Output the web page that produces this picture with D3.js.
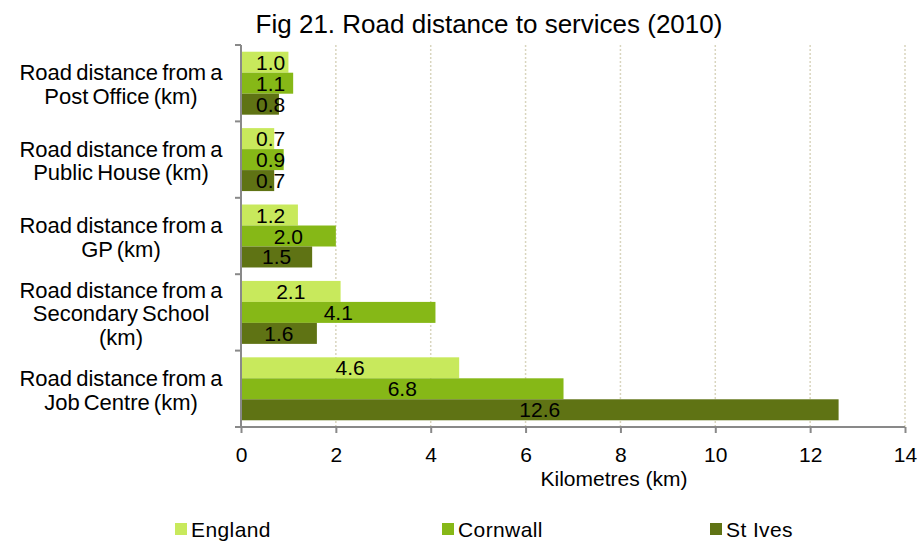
<!DOCTYPE html>
<html>
<head>
<meta charset="utf-8">
<script src="https://cdn.jsdelivr.net/npm/d3@7"></script>
<style>
  body { margin: 0; background: #fff; }
  svg text { font-family: "Liberation Sans", Arial, sans-serif; fill: #000; }
</style>
</head>
<body>
<div id="chart"></div>
<script>
// data
const categories = [
  ["Road distance from a", "Post Office (km)"],
  ["Road distance from a", "Public House (km)"],
  ["Road distance from a", "GP (km)"],
  ["Road distance from a", "Secondary School", "(km)"],
  ["Road distance from a", "Job Centre (km)"]
];
const series = ["England", "Cornwall", "St Ives"];
const england = [1.0, 0.7, 1.2, 2.1, 4.6];
const cornwall = [1.1, 0.9, 2.0, 4.1, 6.8];
const stIves = [0.8, 0.7, 1.5, 1.6, 12.6];
const xTicks = [0, 2, 4, 6, 8, 10, 12, 14];
const colors = ["#c8e95c", "#86b817", "#5f7314"];

const values = [england, cornwall, stIves];

const W = 920, H = 541;
const svg = d3.select("#chart").append("svg").attr("width", W).attr("height", H);

const x = d3.scaleLinear().domain([0, 14]).range([241, 905]);
const y0 = d3.scaleBand().domain(d3.range(categories.length)).range([45, 427]);
const y1 = d3.scaleBand().domain(series).range([0, y0.bandwidth()]).paddingOuter(0.32);

// title
svg.append("text").attr("x", 489).attr("y", 33).attr("text-anchor", "middle")
  .style("font-size", "26px").text("Fig 21. Road distance to services (2010)");

// gridlines
svg.append("g").selectAll("line").data(xTicks.filter(d => d > 0)).join("line")
  .attr("x1", d => x(d)).attr("x2", d => x(d)).attr("y1", 45).attr("y2", 427)
  .attr("stroke", "#d9d5be").attr("stroke-width", 1.5).attr("stroke-dasharray", "2,2");

// bars
const rows = [];
categories.forEach((c, i) => series.forEach((s, j) => rows.push({ i, s, j, v: values[j][i] })));

const bars = svg.append("g");
bars.selectAll("rect").data(rows).join("rect")
  .attr("x", x(0))
  .attr("y", d => y0(d.i) + y1(d.s))
  .attr("width", d => x(d.v) - x(0))
  .attr("height", y1.bandwidth())
  .attr("fill", d => colors[d.j]);

// value labels
const fmt = d3.format(".1f");
bars.selectAll("text").data(rows).join("text")
  .style("font-size", "21px")
  .attr("text-anchor", "middle")
  .text(d => fmt(d.v))
  .attr("y", d => y0(d.i) + y1(d.s) + y1.bandwidth() / 2 + 7.5)
  .attr("x", function (d) {
    const w = this.getComputedTextLength();
    return Math.max((x(0) + x(d.v)) / 2, x(0) + 15 + w / 2);
  });

// axes
const axisColor = "#898989";
const xAxis = svg.append("g").attr("transform", "translate(0,427)")
  .call(d3.axisBottom(x).tickValues(xTicks).tickSize(6).tickPadding(14));
const yAxis = svg.append("g").attr("transform", "translate(241,0)")
  .call(d3.axisLeft(y0).tickValues([]).tickSizeOuter(0));
[xAxis, yAxis].forEach(a => {
  a.select(".domain").attr("stroke", axisColor).attr("stroke-width", 2);
  a.selectAll(".tick line").attr("stroke", axisColor).attr("stroke-width", 2);
});
xAxis.select(".domain").attr("d", "M241,0H905");
xAxis.selectAll(".tick text").style("font-size", "21px").attr("fill", "#000");
yAxis.select(".domain").attr("d", "M0,45V427");
// category separator ticks
yAxis.selectAll("line.sep").data(d3.range(categories.length + 1)).join("line")
  .attr("class", "sep")
  .attr("x1", -6).attr("x2", 0)
  .attr("y1", d => d < categories.length ? y0(d) : 427)
  .attr("y2", d => d < categories.length ? y0(d) : 427)
  .attr("stroke", axisColor).attr("stroke-width", 2);

// category labels
const lineH = 23.5;
svg.append("g").selectAll("text").data(categories).join("text")
  .attr("text-anchor", "middle")
  .style("font-size", "22px").style("word-spacing", "-2px")
  .each(function (lines, i) {
    const cy = y0(i) + y0.bandwidth() / 2;
    const top = cy - (lines.length - 1) * lineH / 2 + 9;
    d3.select(this).selectAll("tspan").data(lines).join("tspan")
      .attr("x", 121).attr("y", (l, k) => top + k * lineH).text(l => l);
  });

// axis title
svg.append("text").attr("x", 614).attr("y", 486).attr("text-anchor", "middle")
  .style("font-size", "21px").text("Kilometres (km)");

// legend
const legendX = [175, 442, 710];
const legend = svg.append("g").selectAll("g").data(series).join("g")
  .attr("transform", (d, i) => `translate(${legendX[i]},523)`);
legend.append("rect").attr("width", 12).attr("height", 12).attr("fill", (d, i) => colors[i]);
legend.append("text").attr("x", 16).attr("y", 14)
  .style("font-size", "21px").style("letter-spacing", "0.4px").text(d => d);
</script>
</body>
</html>
